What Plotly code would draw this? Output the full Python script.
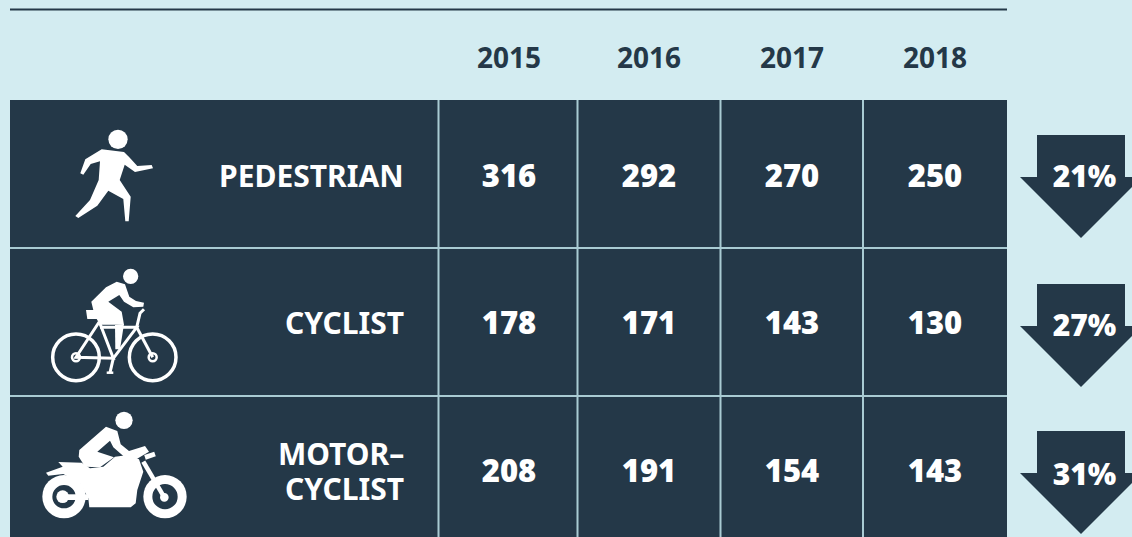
import plotly.graph_objects as go

years = ["2015", "2016", "2017", "2018"]
categories = [["PEDESTRIAN"], ["CYCLIST"], ["MOTOR–", "CYCLIST"]]
pedestrian = [316, 292, 270, 250]
cyclist = [178, 171, 143, 130]
motorcyclist = [208, 191, 154, 143]
changes = ["21%", "27%", "31%"]

BG = "#d3ecf1"
DARK = "#243848"
LINE = "#a9cbd3"
WHITE = "#ffffff"

col_edges = [10, 438.5, 577.5, 720.5, 863, 1007]
row_edges = [100, 248, 396, 537]
arrow_tops = [135, 284, 431]
W, H = 1132, 537

shapes = []


def poly(points, fill=WHITE, ox=0.0, oy=0.0, s=1 / 3):
    d = "M" + " L".join(f"{ox + x * s:.1f},{oy + y * s:.1f}" for x, y in points) + " Z"
    shapes.append(dict(type="path", path=d, fillcolor=fill, line=dict(width=0), layer="above"))


def seg(points, width, color=WHITE, ox=0.0, oy=0.0, s=1 / 3):
    d = "M" + " L".join(f"{ox + x * s:.1f},{oy + y * s:.1f}" for x, y in points)
    shapes.append(dict(type="path", path=d, line=dict(color=color, width=width), layer="above"))


def disc(cx, cy, r, fill=WHITE, stroke=None, sw=0, ox=0.0, oy=0.0, s=1 / 3):
    cx, cy, r = ox + cx * s, oy + cy * s, r * s
    shapes.append(dict(type="circle", x0=cx - r, x1=cx + r, y0=cy - r, y1=cy + r,
                       fillcolor=fill, layer="above",
                       line=dict(color=stroke or fill, width=sw)))


# panel
shapes.append(dict(type="rect", x0=col_edges[0], x1=col_edges[-1], y0=row_edges[0], y1=row_edges[-1],
                   fillcolor=DARK, line=dict(width=0), layer="below"))
# top rule
shapes.append(dict(type="line", x0=col_edges[0], x1=col_edges[-1], y0=9.5, y1=9.5,
                   line=dict(color=DARK, width=2), layer="below"))
# grid
for x in col_edges[1:-1]:
    shapes.append(dict(type="line", x0=x, x1=x, y0=row_edges[0], y1=row_edges[-1],
                       line=dict(color=LINE, width=2), layer="below"))
for y in row_edges[1:-1]:
    shapes.append(dict(type="line", x0=col_edges[0], x1=col_edges[-1], y0=y, y1=y,
                       line=dict(color=LINE, width=2), layer="below"))
# arrows
for t in arrow_tops:
    pts = [(1037, t), (1125, t), (1125, t + 42), (1142, t + 42), (1081, t + 103),
           (1020, t + 42), (1037, t + 42)]
    shapes.append(dict(type="path", path="M" + " L".join(f"{x},{y}" for x, y in pts) + " Z",
                       fillcolor=DARK, line=dict(width=0), layer="below"))

# pedestrian icon (drawn in 3x crop coordinates)
o = dict(ox=0, oy=100)
disc(354, 118, 29, **o)
poly([(305, 148), (372, 156), (388, 172), (412, 198), (455, 195), (459, 205), (405, 216),
      (374, 194), (359, 240), (392, 290), (386, 364), (376, 364), (370, 297), (325, 272),
      (292, 317), (235, 354), (226, 348), (270, 300), (296, 240), (300, 184), (272, 192),
      (250, 224), (241, 220), (256, 178)], **o)

# cyclist icon
o = dict(ox=0, oy=250)
disc(392, 79, 23, **o)
poly([(350, 95), (375, 103), (388, 140), (408, 153), (432, 158), (430, 170), (400, 172),
      (372, 155), (358, 135), (325, 155), (365, 185), (372, 224), (300, 224), (290, 207),
      (262, 207), (258, 180), (280, 180), (274, 155), (318, 112)], **o)
for cx in (228, 458):
    disc(cx, 322, 70, fill="rgba(0,0,0,0)", stroke=WHITE, sw=3.5, **o)
    disc(cx, 322, 12, fill="rgba(0,0,0,0)", stroke=WHITE, sw=2.5, **o)
seg([(298, 215), (228, 322), (340, 325), (298, 215)], 3, **o)
seg([(300, 232), (410, 232), (340, 325)], 3, **o)
seg([(410, 232), (458, 322)], 3, **o)
seg([(410, 232), (420, 190), (432, 178)], 3, **o)
seg([(340, 325), (330, 368)], 3, **o)
seg([(320, 368), (340, 368)], 2.5, **o)
poly([(345, 225), (372, 222), (360, 298), (346, 298)], **o)

# motorcyclist icon
disc(372, 511, 26, **o)
poly([(318, 530), (352, 543), (362, 583), (387, 603), (435, 588), (447, 605), (410, 627),
      (370, 618), (340, 592), (330, 572), (292, 605), (342, 622), (300, 652), (255, 650),
      (236, 620), (238, 600)], **o)
poly([(175, 636), (245, 638), (270, 655), (310, 650), (345, 620), (385, 615), (417, 628),
      (430, 665), (412, 720), (407, 760), (392, 772), (268, 772), (265, 745), (240, 700),
      (190, 672), (145, 677), (138, 668), (188, 650)], **o)
disc(192, 740, 65, **o)
disc(192, 740, 35, fill=DARK, **o)
disc(188, 740, 19, **o)
poly([(195, 733), (265, 733), (265, 750), (195, 750)], **o)
disc(495, 740, 65, **o)
disc(495, 740, 38, fill=DARK, **o)
disc(493, 742, 13, **o)
seg([(430, 635), (493, 742)], 4.5, **o)
seg([(435, 622), (465, 612)], 5, **o)

fig = go.Figure()
col_centers = [509, 649, 792, 935]
row_centers = [176, 323.5, 471.5]
rows = [pedestrian, cyclist, motorcyclist]

fig.add_trace(go.Scatter(x=col_centers, y=[61] * 4, text=years, mode="text",
                         textfont=dict(family="Noto Sans", size=28, color=DARK, weight=700),
                         hoverinfo="skip"))
for row, yc in zip(rows, row_centers):
    fig.add_trace(go.Scatter(x=col_centers, y=[yc + 3] * 4, text=[str(v) for v in row], mode="text",
                             textfont=dict(family="Open Sans", size=31, color=WHITE, weight=800),
                             hoverinfo="skip"))
fig.add_trace(go.Scatter(x=[1084.5] * 3, y=[179, 328, 477], text=changes, mode="text",
                         textfont=dict(family="Open Sans", size=30, color=WHITE, weight=800),
                         hoverinfo="skip"))

LINE_STEP = 35
annotations = []
for lines, yc in zip(categories, row_centers):
    for i, t in enumerate(lines):
        annotations.append(dict(x=406, y=yc - 1 + (i - (len(lines) - 1) / 2) * LINE_STEP, xref="x", yref="y",
                                text=t, showarrow=False, xanchor="right", yanchor="middle", align="right",
                                font=dict(family="Noto Sans", size=30, color=WHITE, weight=700)))

fig.update_layout(
    width=W, height=H, margin=dict(l=0, r=0, t=0, b=0), autosize=False,
    paper_bgcolor=BG, plot_bgcolor=BG, showlegend=False,
    xaxis=dict(range=[0, W], visible=False, fixedrange=True),
    yaxis=dict(range=[H, 0], visible=False, fixedrange=True),
    shapes=shapes, annotations=annotations,
)
fig.write_html("out.html", config=dict(displayModeBar=False),
               post_script="document.body.style.margin='0';document.body.style.background='%s';" % BG)
